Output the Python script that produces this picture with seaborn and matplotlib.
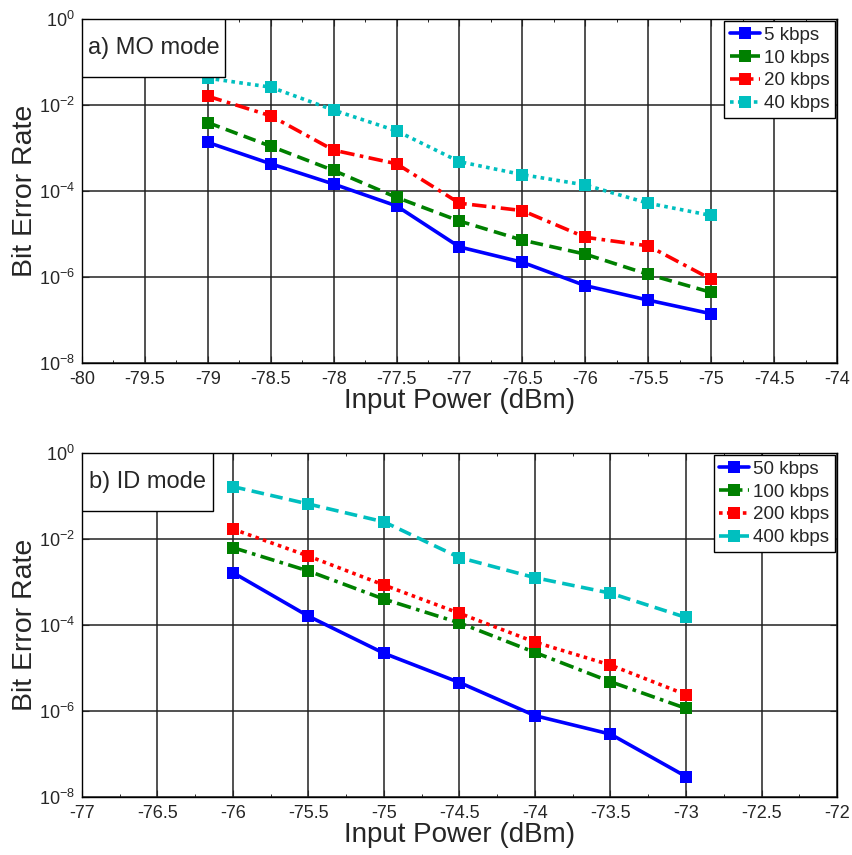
import numpy as np
import pandas as pd
import matplotlib
matplotlib.use("Agg")
import matplotlib.pyplot as plt
from matplotlib.patches import Rectangle
from matplotlib.ticker import MultipleLocator, NullLocator
import seaborn as sns

# ---- data: bit error rate vs. input power ----
power_mo = [-79, -78.5, -78, -77.5, -77, -76.5, -76, -75.5, -75]
ber_5k = [1.35e-3, 4.3e-4, 1.45e-4, 4.5e-5, 5.0e-6, 2.2e-6, 6.3e-7, 2.9e-7, 1.4e-7]
ber_10k = [3.9e-3, 1.1e-3, 3.0e-4, 7.1e-5, 2.0e-5, 7.2e-6, 3.4e-6, 1.15e-6, 4.4e-7]
ber_20k = [1.6e-2, 5.6e-3, 8.9e-4, 4.3e-4, 5.2e-5, 3.5e-5, 8.4e-6, 5.3e-6, 8.9e-7]
ber_40k = [4.2e-2, 2.6e-2, 7.6e-3, 2.5e-3, 4.8e-4, 2.4e-4, 1.38e-4, 5.2e-5, 2.7e-5]
labels_mo = ["5 kbps", "10 kbps", "20 kbps", "40 kbps"]

power_id = [-76, -75.5, -75, -74.5, -74, -73.5, -73]
ber_50k = [1.65e-3, 1.6e-4, 2.2e-5, 4.6e-6, 7.8e-7, 2.9e-7, 3.0e-8]
ber_100k = [6.3e-3, 1.8e-3, 4.0e-4, 1.12e-4, 2.3e-5, 4.8e-6, 1.15e-6]
ber_200k = [1.7e-2, 4.0e-3, 8.5e-4, 1.87e-4, 4.0e-5, 1.17e-5, 2.4e-6]
ber_400k = [0.165, 6.5e-2, 2.5e-2, 3.7e-3, 1.26e-3, 5.5e-4, 1.5e-4]
labels_id = ["50 kbps", "100 kbps", "200 kbps", "400 kbps"]

xticks_mo = [-80, -79.5, -79, -78.5, -78, -77.5, -77, -76.5, -76, -75.5, -75, -74.5, -74]
xticks_id = [-77, -76.5, -76, -75.5, -75, -74.5, -74, -73.5, -73, -72.5, -72]
yticks = [1e0, 1e-2, 1e-4, 1e-6, 1e-8]

sns.set_style("ticks")
plt.rcParams["font.family"] = ["Liberation Sans", "DejaVu Sans"]
plt.rcParams["mathtext.default"] = "regular"
plt.rcParams["axes.unicode_minus"] = False

colors = ["#0000ff", "#008000", "#ff0000", "#00bfbf"]
dotted = (0, (1, 1.2))
dashed = (0, (3.5, 1.8))
dashdot = (0, (4, 1.5, 1, 1.5))
styles_mo = ["-", dashed, dashdot, dotted]
styles_id = ["-", dashdot, dotted, dashed]

fig = plt.figure(figsize=(8.52, 8.55), dpi=100)
ax1 = fig.add_axes([0.0962, 0.5754, 0.8862, 0.4024])
ax2 = fig.add_axes([0.0962, 0.0678, 0.8862, 0.4024])


def draw_panel(ax, x, series, labels, styles, xticks, title, box_w):
    for y, lab, col, ls in zip(series, labels, colors, styles):
        df = pd.DataFrame({"power": x, "ber": y})
        sns.lineplot(data=df, x="power", y="ber", ax=ax, color=col,
                     linestyle=ls, linewidth=2.6, marker="s", markersize=8,
                     markeredgewidth=0, label=lab)
    ax.set_yscale("log")
    ax.set_xlim(xticks[0], xticks[-1])
    ax.set_ylim(1e-8, 1e0)
    ax.set_xticks(xticks)
    ax.set_xticklabels([f"{t:g}" for t in xticks])
    ax.xaxis.set_minor_locator(MultipleLocator(0.25))
    ax.set_yticks(yticks)
    ax.yaxis.set_minor_locator(NullLocator())
    ax.grid(True, which="major", color="#222222", linewidth=1.1)
    ax.tick_params(which="major", direction="in", top=True, right=True,
                   labelsize=13, length=5, width=0.8)
    ax.tick_params(axis="x", which="major", pad=6)
    ax.tick_params(axis="y", which="major", pad=5)
    ax.tick_params(which="minor", direction="in", top=True, bottom=True,
                   length=2.5, width=0.7)
    for s in ax.spines.values():
        s.set_color("black")
        s.set_linewidth(1.0)
    ax.set_xlabel("Input Power (dBm)", fontsize=20, labelpad=0)
    ax.set_ylabel("Bit Error Rate", fontsize=20.5)
    ax.yaxis.set_label_coords(-0.058, 0.5)
    leg = ax.legend(loc="upper right", fontsize=13.5, fancybox=False,
                    framealpha=1, edgecolor="black", handlelength=1.6,
                    handletextpad=0.2, borderpad=0.3, labelspacing=0.3,
                    borderaxespad=0.12)
    leg.get_frame().set_linewidth(1.0)
    # mode label in a box attached to the upper-left corner
    box_h = 0.17
    ax.add_patch(Rectangle((0, 1 - box_h), box_w, box_h, transform=ax.transAxes,
                           facecolor="white", edgecolor="black", linewidth=1.0,
                           zorder=5))
    ax.text(box_w / 2, 1 - box_h / 2, title, transform=ax.transAxes,
            fontsize=17, va="center", ha="center", zorder=6)


draw_panel(ax1, power_mo, [ber_5k, ber_10k, ber_20k, ber_40k], labels_mo,
           styles_mo, xticks_mo, "a) MO mode", 0.19)
draw_panel(ax2, power_id, [ber_50k, ber_100k, ber_200k, ber_400k], labels_id,
           styles_id, xticks_id, "b) ID mode", 0.174)

fig.savefig("out.png", dpi=100)
